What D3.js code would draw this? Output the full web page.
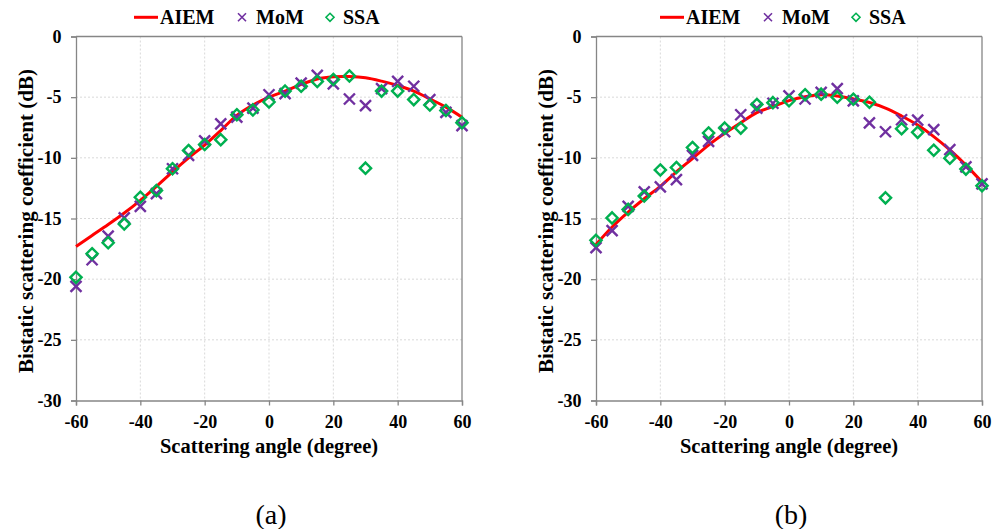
<!DOCTYPE html>
<html>
<head>
<meta charset="utf-8">
<script src="https://cdn.jsdelivr.net/npm/d3@7"></script>
<style>
  html, body { margin: 0; padding: 0; background: #fff; }
  svg { display: block; }
</style>
</head>
<body>
<svg id="chart" width="993" height="529"></svg>
<script>
// ---- data ----
const angles = [-60,-55,-50,-45,-40,-35,-30,-25,-20,-15,-10,-5,0,5,10,15,20,25,30,35,40,45,50,55,60];

const aiemA = [-17.3,-16.4,-15.5,-14.55,-13.5,-12.35,-11.15,-10.0,-8.95,-7.75,-6.5,-5.65,-5.0,-4.5,-3.95,-3.5,-3.32,-3.3,-3.4,-3.68,-4.04,-4.5,-5.14,-5.82,-6.65];
const momA  = [-20.6,-18.4,-16.45,-14.95,-14.0,-12.95,-10.9,-9.8,-8.6,-7.2,-6.65,-5.9,-4.8,-4.7,-3.85,-3.2,-3.9,-5.15,-5.7,-4.3,-3.7,-4.1,-5.2,-6.25,-7.35];
const ssaA  = [-19.85,-17.9,-17.0,-15.45,-13.25,-12.7,-10.9,-9.4,-8.9,-8.5,-6.45,-6.05,-5.4,-4.5,-4.1,-3.7,-3.55,-3.25,-10.85,-4.5,-4.5,-5.2,-5.65,-6.1,-7.1];

const aiemB = [-17.15,-15.7,-14.47,-13.37,-12.35,-11.16,-10.06,-8.95,-7.98,-7.1,-6.27,-5.77,-5.28,-4.97,-4.8,-4.9,-5.14,-5.44,-5.9,-6.55,-7.3,-8.25,-9.35,-10.6,-12.0];
const momB  = [-17.4,-16.0,-14.0,-12.8,-12.4,-11.8,-9.8,-8.65,-7.85,-6.45,-5.9,-5.5,-4.9,-5.15,-4.6,-4.3,-5.3,-7.12,-7.85,-6.86,-6.9,-7.67,-9.32,-10.74,-12.15];
const ssaB  = [-16.8,-14.95,-14.25,-13.15,-11.0,-10.8,-9.15,-7.95,-7.55,-7.55,-5.6,-5.45,-5.3,-4.8,-4.75,-5.0,-5.17,-5.42,-13.3,-7.6,-7.9,-9.37,-10.03,-10.93,-12.3];

const xTicks = [-60,-40,-20,0,20,40,60];
const yTicks = [0,-5,-10,-15,-20,-25,-30];
const seriesNames = ["AIEM","MoM","SSA"];
const panelLabels = ["(a)","(b)"];
const xTitle = "Scattering angle (degree)";
const yTitle = "Bistatic scattering coefficient (dB)";

// ---- layout ----
const FONT = "'Liberation Serif', 'Times New Roman', Times, 'DejaVu Serif', serif";
const panels = [
  {left: 76, legendX: 134, aiem: aiemA, mom: momA, ssa: ssaA, label: panelLabels[0]},
  {left: 596, legendX: 660, aiem: aiemB, mom: momB, ssa: ssaB, label: panelLabels[1]}
];
const plotTop = 36.5, W = 386, H = 364;
const axisColor = "#868686";
const cRed = "#FF0000", cPurple = "#7030A0", cGreen = "#00B050";
const crossPath = s => `M${-s},${-s}L${s},${s}M${-s},${s}L${s},${-s}`;
const diamondPath = s => `M0,${-s}L${s},0L0,${s}L${-s},0Z`;

const svg = d3.select("#chart");

function txt(sel, size, bold) {
  return sel.attr("font-family", FONT).style("font-family", FONT)
    .style("font-size", size + "px").style("font-weight", bold ? "bold" : "normal").attr("fill", "#000");
}

panels.forEach(p => {
  const x = d3.scaleLinear().domain([-60, 60]).range([0, W]);
  const y = d3.scaleLinear().domain([-30, 0]).range([H, 0]);
  const g = svg.append("g").attr("transform", `translate(${p.left},${plotTop})`);

  // gridlines
  g.append("g").selectAll("line").data(xTicks.filter(t => t > -60 && t < 60)).join("line")
    .attr("x1", d => x(d)).attr("x2", d => x(d)).attr("y1", 0).attr("y2", H)
    .attr("stroke", "#d9d9d9").attr("stroke-width", 1).attr("stroke-dasharray", "2,2");
  g.append("g").selectAll("line").data(yTicks.filter(t => t > -30 && t < 0)).join("line")
    .attr("x1", 0).attr("x2", W).attr("y1", d => y(d)).attr("y2", d => y(d))
    .attr("stroke", "#d9d9d9").attr("stroke-width", 1).attr("stroke-dasharray", "2,2");

  // border top/right
  g.append("line").attr("x1", 0).attr("x2", W).attr("y1", y(0)).attr("y2", y(0))
    .attr("stroke", axisColor).attr("stroke-width", 1.3);
  g.append("line").attr("x1", x(60)).attr("x2", x(60)).attr("y1", 0).attr("y2", H)
    .attr("stroke", axisColor).attr("stroke-width", 1.3);

  // axes
  const xAxis = g.append("g").attr("transform", `translate(0,${H})`)
    .call(d3.axisBottom(x).tickValues(xTicks).tickSize(5).tickPadding(9.5).tickFormat(d3.format("d")));
  const yAxis = g.append("g")
    .call(d3.axisLeft(y).tickValues(yTicks).tickSize(5).tickPadding(9.5).tickFormat(d3.format("d")));
  [xAxis, yAxis].forEach(a => {
    a.attr("font-family", FONT);
    a.select(".domain").attr("stroke", axisColor).attr("stroke-width", 1.3);
    a.selectAll(".tick line").attr("stroke", axisColor).attr("stroke-width", 1.3);
    txt(a.selectAll(".tick text"), 18, true);
  });
  xAxis.selectAll(".tick text").text(d => d < 0 ? "-" + Math.abs(d) : String(d));
  yAxis.selectAll(".tick text").text(d => d < 0 ? "-" + Math.abs(d) : String(d));

  // AIEM line
  const line = d3.line().x((d, i) => x(angles[i])).y(d => y(d)).curve(d3.curveCatmullRom.alpha(0.5));
  g.append("path").datum(p.aiem).attr("d", line)
    .attr("fill", "none").attr("stroke", cRed).attr("stroke-width", 3);

  // MoM crosses
  g.append("g").selectAll("path").data(p.mom).join("path")
    .attr("transform", (d, i) => `translate(${x(angles[i])},${y(d)})`)
    .attr("d", crossPath(5.5)).attr("stroke", cPurple).attr("stroke-width", 2.4).attr("fill", "none");

  // SSA diamonds
  g.append("g").selectAll("path").data(p.ssa).join("path")
    .attr("transform", (d, i) => `translate(${x(angles[i])},${y(d)})`)
    .attr("d", diamondPath(5.6)).attr("stroke", cGreen).attr("stroke-width", 2.4).attr("fill", "none");

  // axis titles
  txt(g.append("text").attr("x", W / 2).attr("y", 453 - plotTop).attr("text-anchor", "middle"), 20.5, true)
    .text(xTitle);
  txt(g.append("text").attr("transform", `translate(${-43},${221 - plotTop}) rotate(-90)`)
    .attr("text-anchor", "middle"), 21, true).text(yTitle);

  // panel label
  txt(svg.append("text").attr("x", p.left + W / 2 + 2).attr("y", 524).attr("text-anchor", "middle"), 28, false)
    .text(p.label);

  // legend
  const lg = svg.append("g").attr("transform", `translate(${p.legendX},17.3)`);
  lg.append("line").attr("x1", 0).attr("x2", 24).attr("y1", 0).attr("y2", 0)
    .attr("stroke", cRed).attr("stroke-width", 3);
  txt(lg.append("text").attr("x", 26).attr("y", 7), 20, true).text(seriesNames[0]);
  lg.append("path").attr("transform", "translate(108,0)").attr("d", crossPath(4))
    .attr("stroke", cPurple).attr("stroke-width", 1.6).attr("fill", "none");
  txt(lg.append("text").attr("x", 122).attr("y", 7), 20, true).text(seriesNames[1]);
  lg.append("path").attr("transform", "translate(196,0)").attr("d", diamondPath(4))
    .attr("stroke", cGreen).attr("stroke-width", 1.6).attr("fill", "none");
  txt(lg.append("text").attr("x", 209).attr("y", 7), 20, true).text(seriesNames[2]);
});
</script>
</body>
</html>
